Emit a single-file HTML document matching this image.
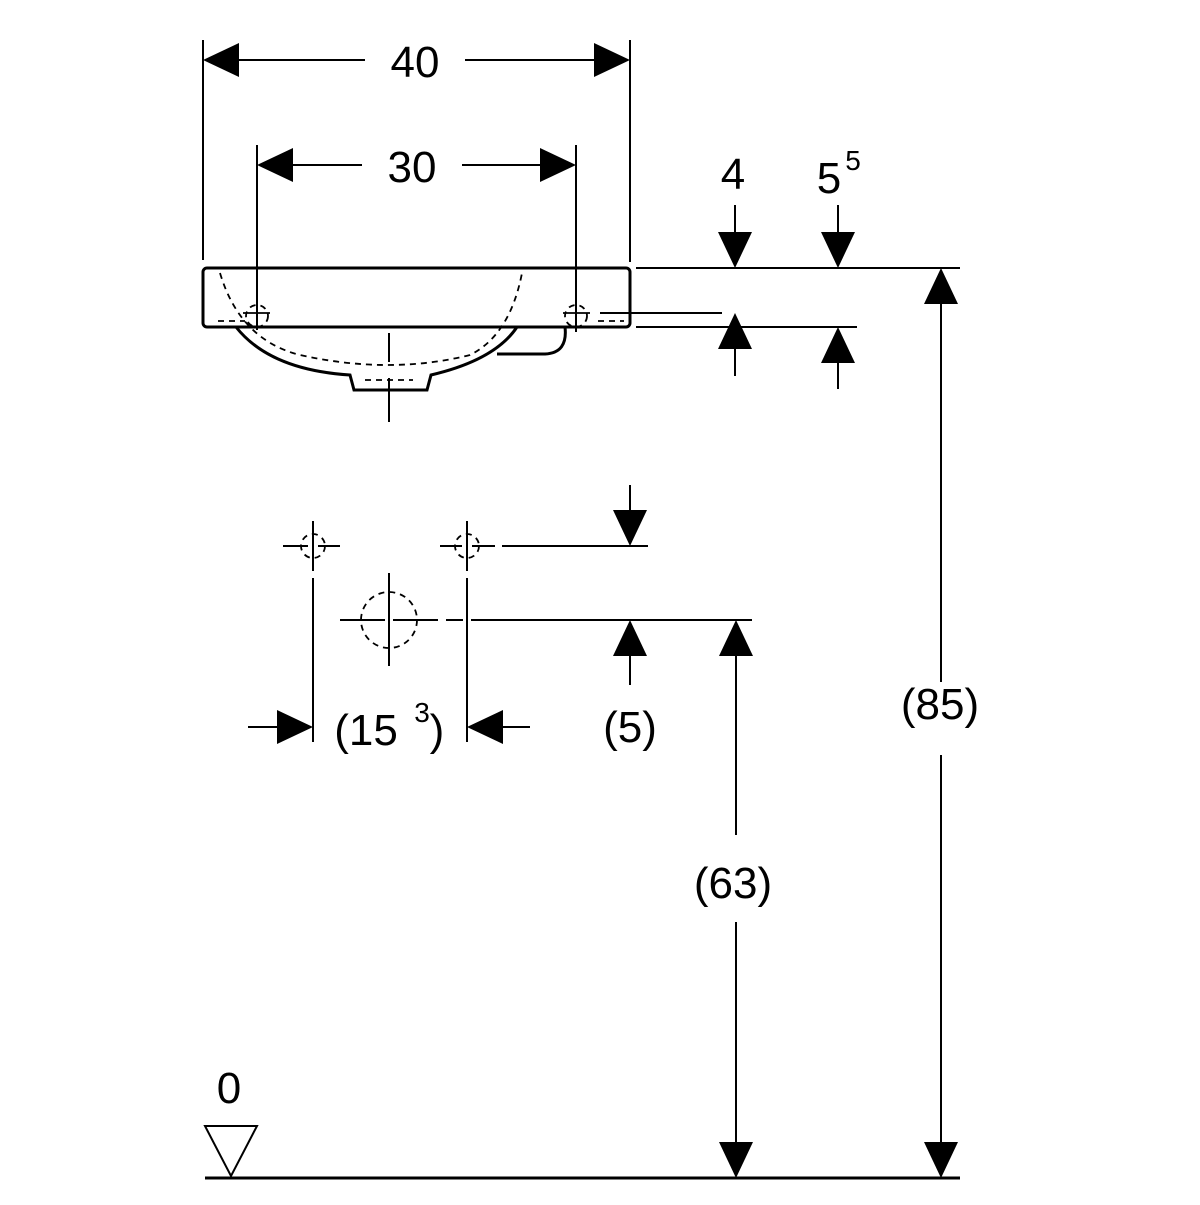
<!DOCTYPE html><html><head><style>body{margin:0;background:#fff}</style></head><body>
<svg width="1200" height="1200" viewBox="0 0 1200 1200" xmlns="http://www.w3.org/2000/svg" font-family="Liberation Sans, sans-serif" fill="none" stroke="#000">
<defs>
<path id="aL" d="M0 0 L36 -17 L36 17Z" fill="#000" stroke="none"/>
</defs>
<g stroke-width="2">
<!-- 40 -->
<line x1="203" y1="40" x2="203" y2="260"/><line x1="630" y1="40" x2="630" y2="262"/>
<line x1="230" y1="60" x2="365" y2="60"/><line x1="465" y1="60" x2="605" y2="60"/>
<!-- 30 -->
<line x1="257" y1="145" x2="257" y2="330"/><line x1="576" y1="145" x2="576" y2="332"/>
<line x1="285" y1="165" x2="362" y2="165"/><line x1="462" y1="165" x2="550" y2="165"/>
<!-- right dims -->
<line x1="636" y1="268" x2="960" y2="268"/>
<line x1="600" y1="313" x2="722" y2="313"/>
<line x1="636" y1="327" x2="857" y2="327"/>
<line x1="735" y1="205" x2="735" y2="240"/><line x1="735" y1="340" x2="735" y2="376"/>
<line x1="838" y1="205" x2="838" y2="240"/><line x1="838" y1="355" x2="838" y2="389"/>
<!-- 85 -->
<line x1="941" y1="300" x2="941" y2="682"/><line x1="941" y1="755" x2="941" y2="1145"/>
<!-- 63 -->
<line x1="736" y1="650" x2="736" y2="835"/><line x1="736" y1="922" x2="736" y2="1145"/>
<!-- center -->
<line x1="389" y1="333" x2="389" y2="362"/><line x1="389" y1="378" x2="389" y2="422"/>
<!-- lower -->
<line x1="283" y1="546" x2="308" y2="546"/><line x1="318" y1="546" x2="340" y2="546"/>
<line x1="440" y1="546" x2="462" y2="546"/><line x1="472" y1="546" x2="495" y2="546"/>
<line x1="502" y1="546" x2="648" y2="546"/>
<line x1="313" y1="521" x2="313" y2="571"/><line x1="313" y1="578" x2="313" y2="742"/>
<line x1="467" y1="521" x2="467" y2="571"/><line x1="467" y1="578" x2="467" y2="742"/>
<line x1="340" y1="620" x2="385" y2="620"/><line x1="393" y1="620" x2="438" y2="620"/>
<line x1="446" y1="620" x2="463" y2="620"/><line x1="471" y1="620" x2="752" y2="620"/>
<line x1="389" y1="573" x2="389" y2="666"/>
<line x1="630" y1="485" x2="630" y2="515"/><line x1="630" y1="650" x2="630" y2="685"/>
<line x1="248" y1="727" x2="280" y2="727"/><line x1="500" y1="727" x2="530" y2="727"/>
</g>
<g stroke-width="1.8" stroke-dasharray="6 5">
<circle cx="313" cy="546" r="12"/><circle cx="467" cy="546" r="12"/>
<circle cx="389" cy="620" r="28"/>
<path d="M220 273 Q240 340 300 355 Q390 375 470 355 Q510 335 522 273"/>
<line x1="218" y1="321" x2="245" y2="321"/><line x1="598" y1="321" x2="624" y2="321"/>
<line x1="365" y1="380" x2="413" y2="380"/>
</g>
<g stroke-width="1.8">
<circle cx="257" cy="316" r="11" stroke-dasharray="6 5"/><circle cx="576" cy="316" r="11" stroke-dasharray="6 5"/>
<line x1="243" y1="313" x2="270" y2="313"/><line x1="563" y1="313" x2="590" y2="313"/>
</g>
<!-- basin -->
<g stroke-width="3">
<rect x="203" y="268" width="427" height="59" rx="4"/>
<path d="M236 327 Q270 370 350 375 L354 390 L427 390 L431 375 Q495 360 517 327"/>
<path d="M565 327 Q568 353 545 354 L497 354"/>
<line x1="205" y1="1178" x2="960" y2="1178"/>
</g>
<path d="M205 1126 L257 1126 L231 1176Z" stroke-width="2"/>
<!-- arrows -->
<use href="#aL" transform="translate(203,60)"/>
<use href="#aL" transform="translate(630,60) rotate(180)"/>
<use href="#aL" transform="translate(257,165)"/>
<use href="#aL" transform="translate(576,165) rotate(180)"/>
<use href="#aL" transform="translate(735,268) rotate(-90)"/>
<use href="#aL" transform="translate(838,268) rotate(-90)"/>
<use href="#aL" transform="translate(735,313) rotate(90)"/>
<use href="#aL" transform="translate(838,327) rotate(90)"/>
<use href="#aL" transform="translate(941,268) rotate(90)"/>
<use href="#aL" transform="translate(941,1178) rotate(-90)"/>
<use href="#aL" transform="translate(736,620) rotate(90)"/>
<use href="#aL" transform="translate(736,1178) rotate(-90)"/>
<use href="#aL" transform="translate(630,546) rotate(-90)"/>
<use href="#aL" transform="translate(630,620) rotate(90)"/>
<use href="#aL" transform="translate(313,727) rotate(180)"/>
<use href="#aL" transform="translate(467,727)"/>
<!-- text -->
<g fill="#000" stroke="none" font-size="44" text-anchor="middle">
<text x="415" y="77">40</text>
<text x="412" y="182">30</text>
<text x="733" y="189">4</text>
<text x="829" y="193">5</text>
<text x="853" y="170" font-size="28">5</text>
<text x="940" y="719">(85)</text>
<text x="733" y="898">(63)</text>
<text x="630" y="742">(5)</text>
<text x="366" y="745">(15</text>
<text x="422" y="722" font-size="28">3</text>
<text x="437" y="745">)</text>
<text x="229" y="1103">0</text>
</g>
</svg>
</body></html>
